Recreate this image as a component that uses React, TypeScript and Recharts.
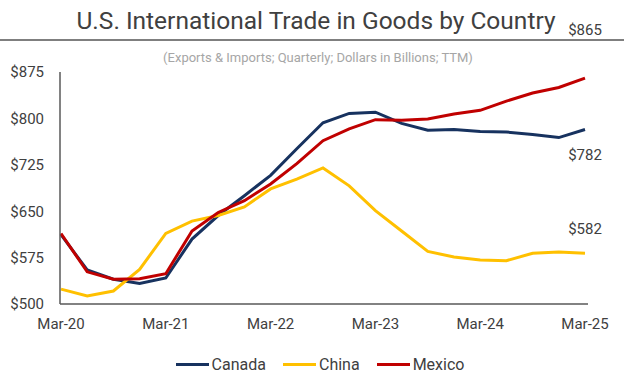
import { Legend, Line, LineChart, Text, XAxis, YAxis } from "recharts";

const quarters = [
  "Mar-20", "Jun-20", "Sep-20", "Dec-20",
  "Mar-21", "Jun-21", "Sep-21", "Dec-21",
  "Mar-22", "Jun-22", "Sep-22", "Dec-22",
  "Mar-23", "Jun-23", "Sep-23", "Dec-23",
  "Mar-24", "Jun-24", "Sep-24", "Dec-24",
  "Mar-25",
];

const canada = [612, 555, 540, 533, 542, 605, 643, 675, 708, 751, 793, 808, 810, 792, 781, 782, 779, 778, 774, 769, 782];
const china = [524, 513, 521, 556, 614, 634, 643, 657, 686, 702, 720, 691, 651, 618, 585, 576, 571, 570, 582, 584, 582];
const mexico = [614, 552, 540, 541, 549, 618, 648, 667, 694, 727, 764, 783, 798, 797, 799, 807, 813, 828, 841, 850, 865];

const yTicks = [500, 575, 650, 725, 800, 875];

const series = [
  { key: "canada", name: "Canada", color: "#17325f", endLabel: "$782", dy: 25 },
  { key: "china", name: "China", color: "#ffc000", endLabel: "$582", dy: -25 },
  { key: "mexico", name: "Mexico", color: "#c00000", endLabel: "$865", dy: -49 },
];

const data = quarters.map((q, i) => ({
  quarter: q,
  canada: canada[i],
  china: china[i],
  mexico: mexico[i],
}));

const FONT = "Roboto, 'Noto Sans', sans-serif";

function endLabel(text: string, dy: number) {
  return (props: any) => {
    if (props.index !== quarters.length - 1) return null;
    return (
      <Text
        x={props.x}
        y={props.y + dy}
        textAnchor="middle"
        verticalAnchor="middle"
        fontSize={15}
        fill="#404040"
        fontFamily={FONT}
      >
        {text}
      </Text>
    );
  };
}

function ChartLegend() {
  return (
    <div style={{ display: "flex", justifyContent: "center", gap: 17, marginLeft: 52, fontFamily: FONT, fontSize: 16, color: "#404040" }}>
      {series.map((s) => (
        <div key={s.key} style={{ display: "flex", alignItems: "center" }}>
          <span style={{ display: "inline-block", width: 33, height: 3, background: s.color, marginRight: 3 }} />
          {s.name}
        </div>
      ))}
    </div>
  );
}

export default function App() {
  return (
    <div style={{ position: "absolute", left: 0, top: 0, width: 626, height: 378, background: "#fff", fontFamily: FONT }}>
      <div style={{ position: "absolute", top: 6, left: 0, width: 632, textAlign: "center", fontSize: 24.5, color: "#404040" }}>
        U.S. International Trade in Goods by Country
      </div>
      <div style={{ position: "absolute", top: 39, left: 0, width: 624, height: 2, background: "#7f7f7f" }} />
      <div style={{ position: "absolute", top: 50, left: 0, width: 636, textAlign: "center", fontSize: 13, color: "#a6a6a6" }}>
        (Exports &amp; Imports; Quarterly; Dollars in Billions; TTM)
      </div>
      <LineChart
        width={626}
        height={378}
        data={data}
        margin={{ top: 72, right: 38, bottom: 4, left: 0 }}
        style={{ position: "absolute", left: 0, top: 0 }}
      >
        <XAxis
          dataKey="quarter"
          interval={3}
          tickLine={false}
          tickSize={0}
          tickMargin={14}
          height={51}
          padding={{ left: 1, right: 3 }}
          axisLine={{ stroke: "#595959", strokeWidth: 1.5 }}
          tick={{ fontSize: 15, fill: "#404040", fontFamily: FONT }}
        />
        <YAxis
          domain={[500, 875]}
          ticks={yTicks}
          width={60}
          tickLine={false}
          tickSize={0}
          tickMargin={16}
          axisLine={{ stroke: "#595959", strokeWidth: 1.5 }}
          tickFormatter={(v: number) => `$${v}`}
          tick={{ fontSize: 15, fill: "#404040", fontFamily: FONT }}
        />
        <Legend verticalAlign="bottom" content={() => <ChartLegend />} />
        {series.map((s) => (
          <Line
            key={s.key}
            dataKey={s.key}
            name={s.name}
            stroke={s.color}
            strokeWidth={3}
            dot={false}
            type="linear"
            isAnimationActive={false}
            label={endLabel(s.endLabel, s.dy)}
          />
        ))}
      </LineChart>
    </div>
  );
}
